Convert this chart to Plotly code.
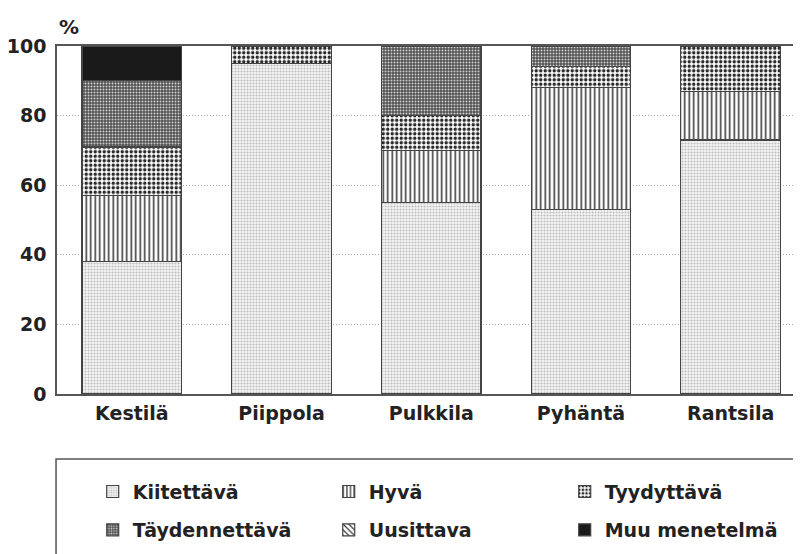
import plotly.graph_objects as go

categories = ["Kestilä", "Piippola", "Pulkkila", "Pyhäntä", "Rantsila"]
kiitettava = [38, 95, 55, 53, 73]
hyva = [19, 0, 15, 35, 14]
tyydyttava = [14, 5, 10, 6, 13]
taydennettava = [19, 0, 20, 6, 0]
uusittava = [0, 0, 0, 0, 0]
muu = [10, 0, 0, 0, 0]
y_ticks = [0, 20, 40, 60, 80, 100]

FONT = "DejaVu Sans"
TXT = "#222222"
EDGE = "#444444"

series = [
    ("Kiitettävä", kiitettava, dict(shape=".", size=3, solidity=0.4, fgcolor="#bdbdbd", bgcolor="#f6f6f6"), "legend"),
    ("Hyvä", hyva, dict(shape="|", size=4.5, solidity=0.35, fgcolor="#3a3a3a", bgcolor="#ffffff"), "legend"),
    ("Tyydyttävä", tyydyttava, dict(shape=".", size=4.5, solidity=0.45, fgcolor="#2a2a2a", bgcolor="#ffffff"), "legend"),
    ("Täydennettävä", taydennettava, dict(shape=".", size=3, solidity=0.35, fgcolor="#d0d0d0", bgcolor="#505050"), "legend2"),
    ("Uusittava", uusittava, dict(shape="\\", size=5, solidity=0.3, fgcolor="#333333", bgcolor="#ffffff"), "legend2"),
    ("Muu menetelmä", muu, dict(shape="", fgcolor="#1a1a1a", bgcolor="#1a1a1a"), "legend2"),
]

xpos = list(range(len(categories)))
fig = go.Figure()
for name, vals, pat, leg in series:
    marker = dict(color="#1a1a1a" if name == "Muu menetelmä" else "#ffffff",
                  line=dict(color=EDGE, width=1.2))
    if pat.get("shape"):
        marker["pattern"] = dict(fillmode="replace", **pat)
    fig.add_trace(go.Bar(
        x=xpos, y=vals, name=name, width=0.665, marker=marker, legend=leg,
    ))

fig.update_layout(
    width=793, height=546,
    barmode="stack",
    plot_bgcolor="white", paper_bgcolor="white",
    margin=dict(l=49, r=0, t=38, b=160, autoexpand=False),
    font=dict(family=FONT, size=19, color=TXT, weight="bold"),
    xaxis=dict(
        tickmode="array", tickvals=xpos, ticktext=categories,
        range=[-0.5, 4.47], showgrid=False, zeroline=False,
        showline=True, mirror=True, linecolor="#555555", linewidth=1.5,
        ticks="", ticklabelstandoff=1, automargin=False,
        tickfont=dict(family=FONT, size=19, color=TXT, weight="bold"),
    ),
    yaxis=dict(
        range=[0, 100], tickvals=y_ticks, showgrid=True,
        gridcolor="#aaaaaa", griddash="1px,2px", gridwidth=1,
        zeroline=False, showline=True, linecolor="#555555", linewidth=1.5,
        ticks="", ticklen=0, ticklabelstandoff=5, automargin=False,
        tickfont=dict(family=FONT, size=19, color=TXT, weight="bold"),
    ),
    legend=dict(
        orientation="h", x=0.048, xanchor="left", y=-0.226, yanchor="top",
        entrywidth=191, traceorder="normal", bgcolor="rgba(0,0,0,0)",
        font=dict(family=FONT, size=19, color=TXT, weight="bold"),
    ),
    legend2=dict(
        orientation="h", x=0.048, xanchor="left", y=-0.336, yanchor="top",
        entrywidth=191, traceorder="normal", bgcolor="rgba(0,0,0,0)",
        font=dict(family=FONT, size=19, color=TXT, weight="bold"),
    ),
    annotations=[dict(
        text="%", x=0, y=1.055, xref="paper", yref="paper",
        xanchor="left", yanchor="middle", showarrow=False,
        font=dict(family=FONT, size=20, color=TXT, weight="bold"),
    )],
    shapes=[dict(
        type="rect", xref="paper", yref="paper",
        x0=-0.0013, x1=1.05, y0=-0.187, y1=-0.6,
        line=dict(color="#555555", width=1.5), fillcolor="rgba(0,0,0,0)",
    )],
)

fig.write_html("out.html")
